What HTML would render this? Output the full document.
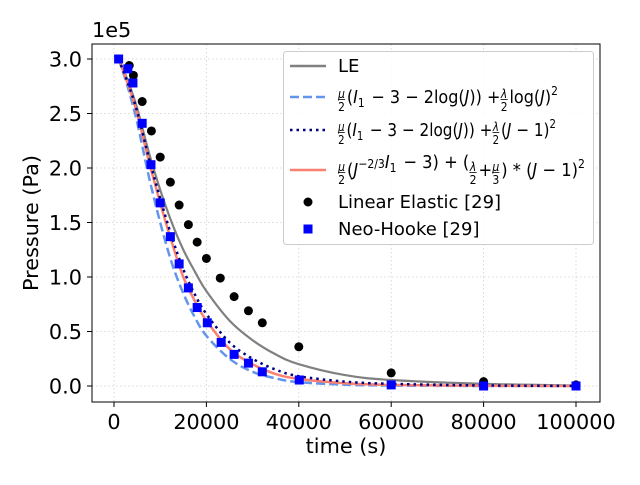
<!DOCTYPE html>
<html><head><meta charset="utf-8"><style>
body{margin:0;background:#fff}
svg{font-family:"DejaVu Sans","Liberation Sans",sans-serif}
</style></head><body>
<svg id="chart" width="640" height="480" viewBox="0 0 640 480">
<rect x="0" y="0" width="640" height="480" fill="#fff"/>
<g id="grid"></g>
<g id="curves"></g>
<g id="points"></g>
<rect x="92" y="44" width="508" height="358" fill="none" stroke="#000" stroke-width="1"/>
<g id="ticks"></g>
<text x="92" y="37" font-size="20.8">1e5</text>
<text x="346" y="453" font-size="20.8" text-anchor="middle">time (s)</text>
<text transform="translate(38,223) rotate(-90)" font-size="20.8" text-anchor="middle">Pressure (Pa)</text>
<g>
<rect x="283.5" y="51.5" width="310" height="193" rx="3" fill="#fff" fill-opacity="0.85" stroke="#ccc"/>
<g>
<line x1="290" y1="66" x2="326" y2="66" stroke="#808080" stroke-width="2.5"/>
<text x="338" y="72" font-size="18">LE</text></g>
<g>
<line x1="290" y1="97" x2="326" y2="97" stroke="#6495ED" stroke-width="2.5" stroke-dasharray="9,4"/>
<g id="f1"></g></g>
<g>
<line x1="290" y1="130" x2="326" y2="130" stroke="#000080" stroke-width="2.5" stroke-dasharray="2.5,4"/>
<g id="f2"></g></g>
<g>
<line x1="290" y1="170" x2="326" y2="170" stroke="#FA8072" stroke-width="2.5"/>
<g id="f3"></g></g>
<g>
<circle cx="308" cy="202" r="4.5" fill="#000"/>
<text x="338" y="208" font-size="18">Linear Elastic [29]</text></g>
<g>
<rect x="303.5" y="224.5" width="9" height="9" fill="#0000ff"/>
<text x="338" y="235" font-size="18">Neo-Hooke [29]</text></g>
</g>
</svg>
<script>
const xTicks=[0,20000,40000,60000,80000,100000];
const yTicks=[0,0.5,1,1.5,2,2.5,3];
const curveT=[1000,3000,5000,7500,10000,12500,15000,17500,20000,25000,30000,35000,40000,50000,60000,80000,100000];
const leVals=[3.0,2.8,2.55,2.15,1.8,1.5,1.25,1.05,0.87,0.6,0.42,0.29,0.2,0.1,0.055,0.02,0.005];
const logVals=[3.0,2.74,2.42,1.93,1.5,1.13,0.85,0.63,0.46,0.25,0.13,0.07,0.035,0.012,0.004,0.0,0.0];
const quadVals=[3.0,2.78,2.52,2.1,1.72,1.37,1.07,0.84,0.66,0.40,0.25,0.15,0.09,0.04,0.02,0.005,0.001];
const salmonVals=[3.0,2.77,2.5,2.07,1.68,1.32,1.0,0.78,0.6,0.34,0.2,0.11,0.065,0.025,0.01,0.002,0.0];
const leT=[3300,4200,6100,8100,10000,12200,14100,16100,18000,20000,23000,26000,29100,32100,40000,60000,80000,100000];
const leP=[2.94,2.85,2.61,2.34,2.10,1.87,1.66,1.48,1.32,1.17,0.99,0.82,0.69,0.58,0.36,0.12,0.04,0.01];
const nhT=[1000,3000,4100,6100,8000,10000,12200,14100,16100,18000,20200,23200,26000,29100,32100,40100,60000,80000,100000];
const nhP=[3.0,2.91,2.78,2.41,2.03,1.68,1.37,1.12,0.90,0.72,0.58,0.40,0.29,0.21,0.13,0.055,0.01,0.0,0.0];
const NS='http://www.w3.org/2000/svg';
function X(t){return 114+(t-0)*(576-114)/100000;}
function Y(p){return 386-p*(386-59)/3;}
function mk(tag,attrs,parent){const e=document.createElementNS(NS,tag);for(const k in attrs)e.setAttribute(k,attrs[k]);parent.appendChild(e);return e;}
const grid=document.getElementById('grid'),ticks=document.getElementById('ticks');
xTicks.forEach(t=>{
 const gl=mk('line',{x1:X(t),x2:X(t),y1:44,y2:402,stroke:'#d0d0d0','stroke-dasharray':'1.5,2.5','stroke-width':0.8},grid);
 
 
 const tk=mk('line',{x1:X(t),x2:X(t),y1:402,y2:407,stroke:'#000'},ticks);
 
 
 const tx=mk('text',{x:X(t),y:429,'font-size':20.8,'text-anchor':'middle'},ticks);
 tx.textContent=String(t);
 
 
});
yTicks.forEach(p=>{
 const gl=mk('line',{x1:92,x2:600,y1:Y(p),y2:Y(p),stroke:'#d0d0d0','stroke-dasharray':'1.5,2.5','stroke-width':0.8},grid);
 
 
 const tk=mk('line',{x1:87,x2:92,y1:Y(p),y2:Y(p),stroke:'#000'},ticks);
 
 
 const tx=mk('text',{x:82,y:Y(p)+7.5,'font-size':20.8,'text-anchor':'end'},ticks);
 tx.textContent=p.toFixed(1);
 
 
});
function pathFor(ts,vs){
 const pts=ts.map((t,i)=>[X(t),Y(vs[i])]);
 let d='M'+pts[0][0]+','+pts[0][1];
 for(let i=0;i<pts.length-1;i++){
  const p0=pts[Math.max(i-1,0)],p1=pts[i],p2=pts[i+1],p3=pts[Math.min(i+2,pts.length-1)];
  const c1=[p1[0]+(p2[0]-p0[0])/6,p1[1]+(p2[1]-p0[1])/6];
  const c2=[p2[0]-(p3[0]-p1[0])/6,p2[1]-(p3[1]-p1[1])/6];
  d+=' C'+c1[0]+','+c1[1]+' '+c2[0]+','+c2[1]+' '+p2[0]+','+p2[1];
 }
 return d;
}
const curves=document.getElementById('curves');
const c1=mk('path',{d:pathFor(curveT,leVals),fill:'none',stroke:'#808080','stroke-width':2.2},curves);


const c2=mk('path',{d:pathFor(curveT,logVals),fill:'none',stroke:'#6495ED','stroke-width':2.5,'stroke-dasharray':'9,4'},curves);


const c4=mk('path',{d:pathFor(curveT,salmonVals),fill:'none',stroke:'#FA8072','stroke-width':2.5},curves);


const c3=mk('path',{d:pathFor(curveT,quadVals),fill:'none',stroke:'#000080','stroke-width':2.5,'stroke-dasharray':'2.5,4'},curves);


const pts=document.getElementById('points');
leT.forEach((t,i)=>{
 const c=mk('circle',{cx:X(t),cy:Y(leP[i]),r:4.5,fill:'#000'},pts);
 
 
});
nhT.forEach((t,i)=>{
 const r=mk('rect',{x:X(t)-4.5,y:Y(nhP[i])-4.5,width:9,height:9,fill:'#0000ff'},pts);
 
 
});
// legend formula layout
const I1='<tspan font-style="italic">I</tspan><tspan font-size="12" dy="4">1</tspan><tspan dy="-4">\u200a</tspan>';
const J='<tspan font-style="italic">J</tspan>';
const sq='<tspan font-size="12" dy="-8">2</tspan>';
function layout(id,segs,y,x0,x1){
 const g=document.getElementById(id);
 let x=0;
 segs.forEach(s=>{
  if(s[0]==='f'){
   const n=mk('text',{x:x+4,y:y-5,'font-size':12,'text-anchor':'middle','font-style':'italic'},g);n.textContent=s[1];
   mk('line',{x1:x,x2:x+8,y1:y-3.5,y2:y-3.5,stroke:'#000','stroke-width':0.8},g);
   const d=mk('text',{x:x+4,y:y+8,'font-size':12,'text-anchor':'middle'},g);d.textContent=s[2];
   x+=10;
  }else{
   const t=mk('text',{x:x,y:y,'font-size':18},g);t.innerHTML=s[1];
   x+=t.getBBox().width;
  }
 });
 g.setAttribute('transform','translate('+x0+',0) scale('+((x1-x0)/x)+',1)');
}
layout('f1',[['f','μ','2'],['t','('+I1+' − 3 − 2log('+J+')) + '],['f','λ','2'],['t','log('+J+')'+sq]],103,338,558);
layout('f2',[['f','μ','2'],['t','('+I1+' − 3 − 2log('+J+')) + '],['f','λ','2'],['t','('+J+' − 1)'+sq]],136,338,556);
layout('f3',[['f','μ','2'],['t','('+J+'<tspan font-size="12" dy="-8">−2/3</tspan><tspan dy="8"></tspan>'+I1+' − 3) + ('],['f','λ','2'],['t',' + '],['f','μ','3'],['t',') * ('+J+' − 1)'+sq]],176,338,585);
</script>
</body></html>
